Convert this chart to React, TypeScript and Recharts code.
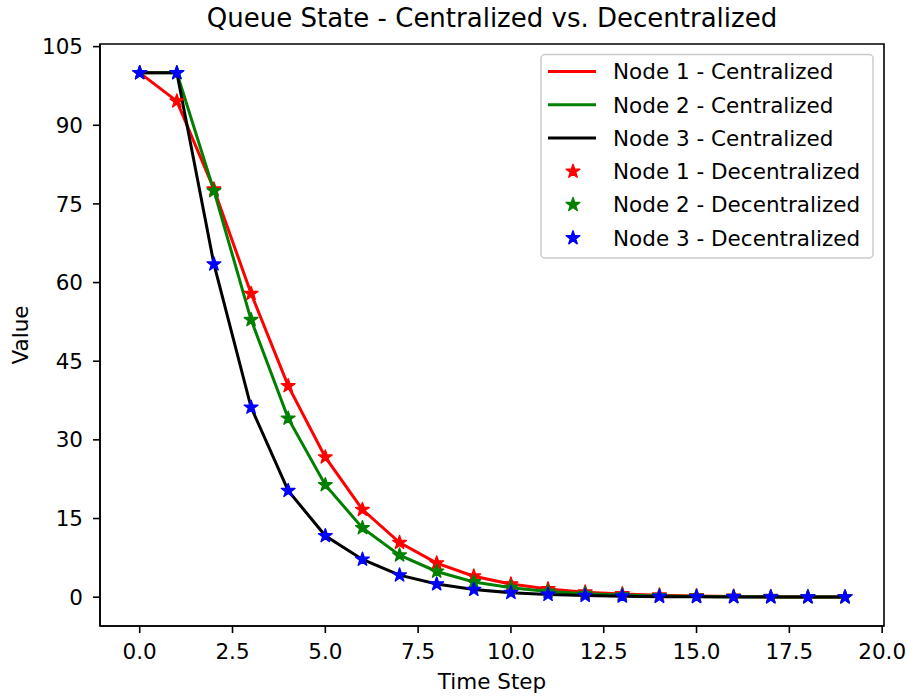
import React from 'react';
import { ComposedChart, Line, Scatter, XAxis, YAxis, ReferenceArea } from 'recharts';

const timeSteps = [0, 1, 2, 3, 4, 5, 6, 7, 8, 9, 10, 11, 12, 13, 14, 15, 16, 17, 18, 19];

const node1Centralized = [100, 94.6, 77.8, 57.9, 40.3, 26.7, 16.7, 10.4, 6.5, 4.0, 2.5, 1.55, 0.95, 0.6, 0.37, 0.23, 0.14, 0.09, 0.05, 0.03];
const node2Centralized = [100, 100, 77.5, 52.9, 34.1, 21.4, 13.2, 8.0, 4.9, 2.9, 1.8, 1.1, 0.65, 0.4, 0.24, 0.15, 0.09, 0.05, 0.03, 0.02];
const node3Centralized = [100, 100, 63.5, 36.2, 20.3, 11.7, 7.2, 4.2, 2.5, 1.45, 0.85, 0.5, 0.3, 0.17, 0.1, 0.06, 0.03, 0.02, 0.01, 0.01];

const node1Decentralized = [100, 94.6, 77.8, 57.9, 40.3, 26.7, 16.7, 10.4, 6.5, 4.0, 2.5, 1.55, 0.95, 0.6, 0.37, 0.23, 0.14, 0.09, 0.05, 0.03];
const node2Decentralized = [100, 100, 77.5, 52.9, 34.1, 21.4, 13.2, 8.0, 4.9, 2.9, 1.8, 1.1, 0.65, 0.4, 0.24, 0.15, 0.09, 0.05, 0.03, 0.02];
const node3Decentralized = [100, 100, 63.5, 36.2, 20.3, 11.7, 7.2, 4.2, 2.5, 1.45, 0.85, 0.5, 0.3, 0.17, 0.1, 0.06, 0.03, 0.02, 0.01, 0.01];

const xTicks = [0, 2.5, 5, 7.5, 10, 12.5, 15, 17.5, 20];
const yTicks = [0, 15, 30, 45, 60, 75, 90, 105];

const seriesNames = [
  'Node 1 - Centralized',
  'Node 2 - Centralized',
  'Node 3 - Centralized',
  'Node 1 - Decentralized',
  'Node 2 - Decentralized',
  'Node 3 - Decentralized',
];
const seriesColors = ['#ff0000', '#008000', '#000000', '#ff0000', '#008000', '#0000ff'];
const seriesKinds = ['line', 'line', 'line', 'star', 'star', 'star'];

const title = 'Queue State - Centralized vs. Decentralized';
const xLabel = 'Time Step';
const yLabel = 'Value';

const data = timeSteps.map((t, i) => ({
  t,
  n1c: node1Centralized[i],
  n2c: node2Centralized[i],
  n3c: node3Centralized[i],
  n1d: node1Decentralized[i],
  n2d: node2Decentralized[i],
  n3d: node3Decentralized[i],
}));

const X_DOMAIN: [number, number] = [-1.07, 20.05];
const Y_DOMAIN: [number, number] = [-5.5, 105.5];
const FONT = '"DejaVu Sans", sans-serif';
const STAR_R = 7.2;
const STAR_r = 2.8;

function starPath(cx: number, cy: number, R: number, r: number) {
  let d = '';
  for (let i = 0; i < 10; i++) {
    const rad = i % 2 === 0 ? R : r;
    const a = -Math.PI / 2 + (i * Math.PI) / 5;
    const x = cx + rad * Math.cos(a);
    const y = cy + rad * Math.sin(a);
    d += (i === 0 ? 'M' : 'L') + x.toFixed(2) + ',' + y.toFixed(2);
  }
  return d + 'Z';
}

const makeStar = (color: string) => (props: any) => {
  const { cx, cy } = props;
  if (cx == null || cy == null) return <g />;
  return <path d={starPath(cx, cy, STAR_R, STAR_r)} fill={color} stroke={color} strokeWidth={1.4} strokeLinejoin="round" />;
};

export default function App() {
  const legendLeft = 541;
  const legendTop = 54.5;
  const rowStep = 33.3;
  const firstRow = 71.5;
  return (
    <div style={{ position: 'absolute', left: 0, top: 0, width: 907, height: 696, background: '#fff', fontFamily: FONT }}>
      <ComposedChart width={907} height={696} data={data} margin={{ top: 44, right: 23, bottom: 0, left: 0 }}>
        <XAxis
          dataKey="t"
          type="number"
          domain={X_DOMAIN}
          allowDataOverflow
          ticks={xTicks}
          interval={0}
          tickFormatter={(v: number) => v.toFixed(1)}
          height={70}
          tickSize={7}
          tickMargin={11}
          stroke="#000"
          strokeWidth={1.6}
          tick={{ fill: '#000', fontSize: 21.5, fontFamily: FONT }}
        />
        <YAxis
          type="number"
          domain={Y_DOMAIN}
          allowDataOverflow
          ticks={yTicks}
          interval={0}
          width={100}
          tickSize={7}
          tickMargin={10}
          stroke="#000"
          strokeWidth={1.6}
          tick={{ fill: '#000', fontSize: 21.5, fontFamily: FONT }}
        />
        <ReferenceArea
          x1={X_DOMAIN[0]}
          x2={X_DOMAIN[1]}
          y1={Y_DOMAIN[0]}
          y2={Y_DOMAIN[1]}
          fill="none"
          stroke="#000"
          strokeWidth={1.6}
          ifOverflow="visible"
        />
        <Line dataKey="n1c" stroke={seriesColors[0]} strokeWidth={3} dot={false} activeDot={false} isAnimationActive={false} />
        <Line dataKey="n2c" stroke={seriesColors[1]} strokeWidth={3} dot={false} activeDot={false} isAnimationActive={false} />
        <Line dataKey="n3c" stroke={seriesColors[2]} strokeWidth={3} dot={false} activeDot={false} isAnimationActive={false} />
        <Scatter dataKey="n1d" shape={makeStar(seriesColors[3])} isAnimationActive={false} />
        <Scatter dataKey="n2d" shape={makeStar(seriesColors[4])} isAnimationActive={false} />
        <Scatter dataKey="n3d" shape={makeStar(seriesColors[5])} isAnimationActive={false} />
      </ComposedChart>
      <svg width={907} height={696} style={{ position: 'absolute', left: 0, top: 0, pointerEvents: 'none' }}>
        <text x={492} y={27} textAnchor="middle" fontSize={26} fontFamily={FONT} fill="#000">{title}</text>
        <text x={492} y={689} textAnchor="middle" fontSize={21.5} fontFamily={FONT} fill="#000">{xLabel}</text>
        <text x={27.5} y={335} textAnchor="middle" fontSize={21.5} fontFamily={FONT} fill="#000" transform="rotate(-90 27.5 335)">{yLabel}</text>
        <rect x={legendLeft} y={legendTop} width={332} height={203.5} rx={4} fill="#fff" fillOpacity={0.8} stroke="#cccccc" strokeWidth={1.5} />
        {seriesNames.map((name, i) => {
          const cy = firstRow + i * rowStep;
          return (
            <g key={name}>
              {seriesKinds[i] === 'line' ? (
                <line x1={548} x2={596} y1={cy} y2={cy} stroke={seriesColors[i]} strokeWidth={3} />
              ) : (
                <path d={starPath(573, cy, STAR_R, STAR_r)} fill={seriesColors[i]} stroke={seriesColors[i]} strokeWidth={1.4} strokeLinejoin="round" />
              )}
              <text x={613} y={cy} dy="0.36em" fontSize={21.5} fontFamily={FONT} fill="#000">{name}</text>
            </g>
          );
        })}
      </svg>
    </div>
  );
}
